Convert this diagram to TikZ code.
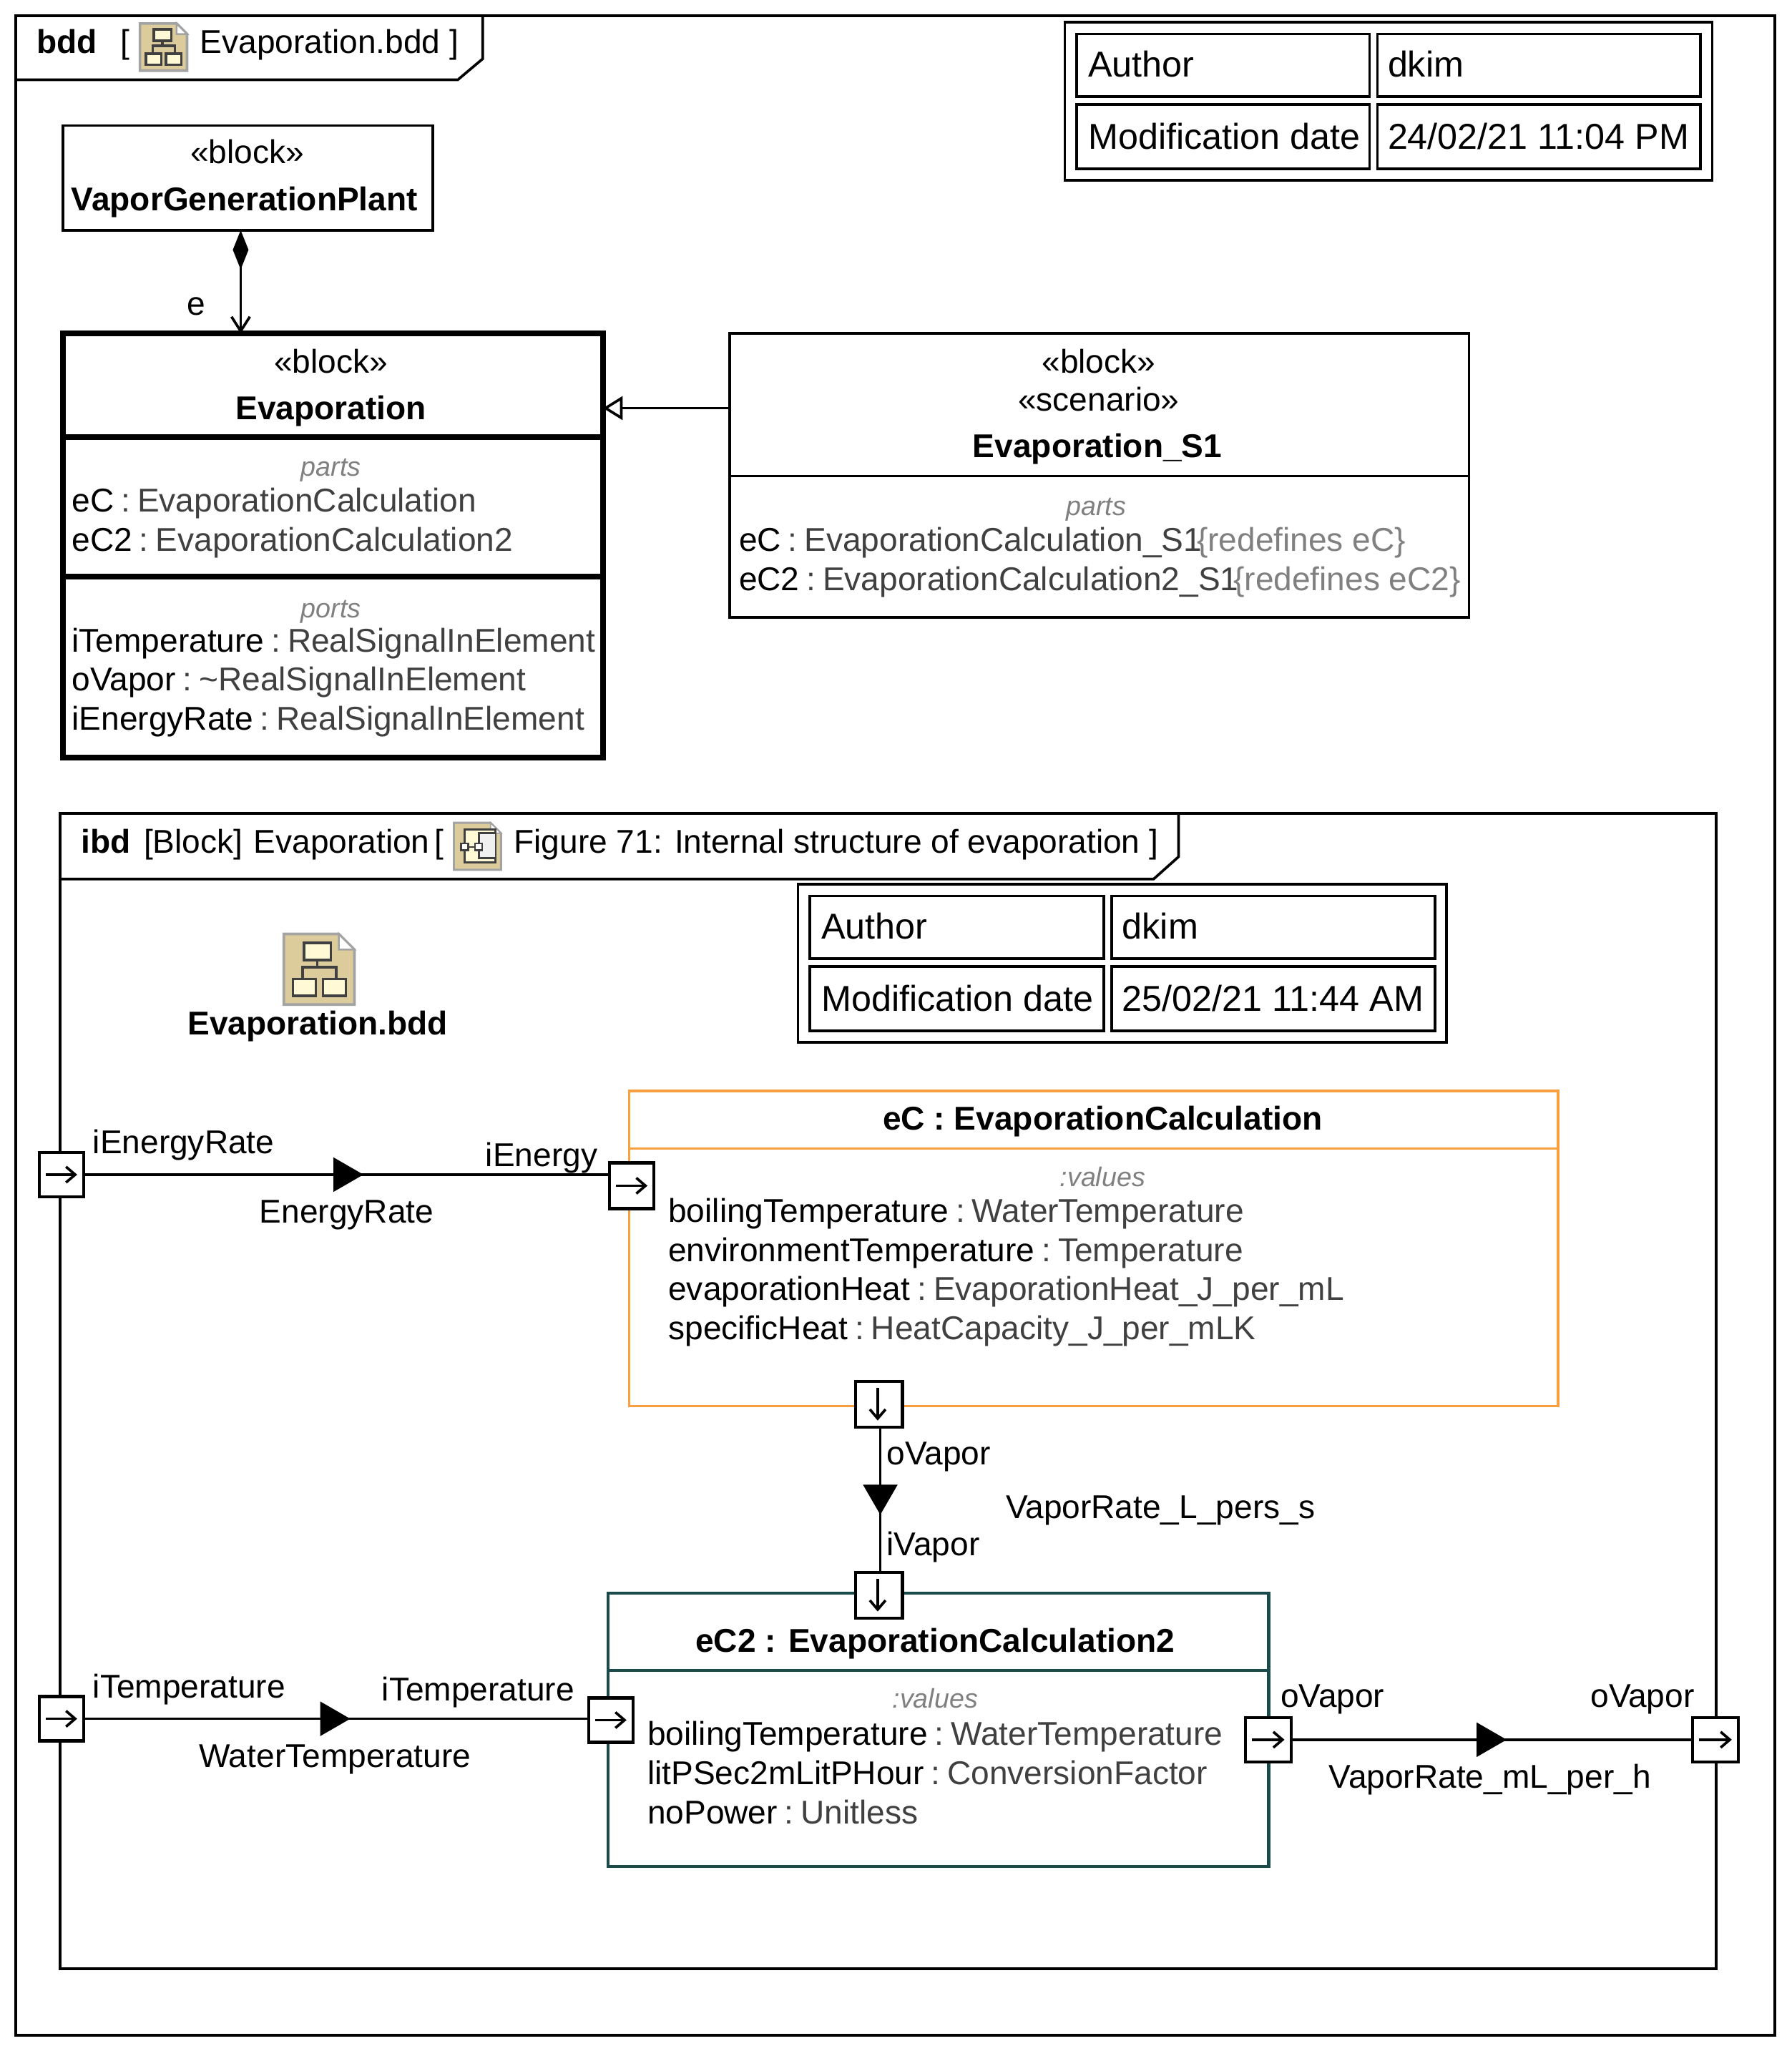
\documentclass[tikz,border=0pt]{standalone}
\usepackage{fontspec}
\setmainfont{Liberation Sans}
\usetikzlibrary{arrows.meta,fit,decorations.markings}
\definecolor{typegray}{HTML}{404040}
\definecolor{kwgray}{HTML}{808080}
\definecolor{iconTan}{HTML}{DCCB9B}
\definecolor{iconEdge}{HTML}{A3A3A3}
\definecolor{iconFill}{HTML}{FFF9D6}
\definecolor{calcOrange}{HTML}{F8A040}
\definecolor{calcTeal}{HTML}{1B4A4A}
\newcommand{\propline}[2]{#1\hspace{2.7pt}{\color{typegray}:\hspace{2.7pt}#2}}
\newcommand{\kwtext}[1]{{\fontsize{10.3}{12}\selectfont\itshape\color{kwgray}#1}}
\tikzset{
  txt/.style={inner sep=0pt, outer sep=0pt, font=\fontsize{12.6}{15}\selectfont},
  lbl/.style={txt, anchor=base west},
  mid/.style={txt, anchor=base},
  cell/.style={lbl, font=\fontsize{13.75}{15}\selectfont},
  listing/.style={txt, anchor=north west, align=left},
  framebox/.style={draw, line width=1pt, inner sep=0pt, outer sep=0pt},
  blockbox/.style={framebox, fill=white},
  portbox/.style={draw, fill=white, line width=1.2pt, inner sep=0pt, outer sep=0pt},
  portarrow/.style={line width=1pt, -{Straight Barb[length=3.5pt,width=6pt]}},
  flowline/.style={line width=1pt, postaction={decorate},
    decoration={markings, mark=at position #1 with {\arrow{Triangle[length=11.5pt,width=13pt]}}}},
  bddicon/.pic={
    \draw[iconEdge, fill=iconTan, line width=1pt] (0,0) -- (42,0) -- (54,12) -- (54,54) -- (0,54) -- cycle;
    \draw[iconEdge, fill=white, line width=0.7pt] (42,0) -- (54,12) -- (42,12) -- cycle;
    \draw[typegray, line width=1pt] (25.6,20) -- (25.6,25.5) (14.5,34.5) -- (14.5,25.5) -- (40,25.5) -- (40,34.5);
    \draw[typegray, fill=iconFill, line width=1pt] (15.6,6.7) rectangle (36,20);
    \draw[typegray, fill=iconFill, line width=1pt] (7,34.5) rectangle (24.5,47.3);
    \draw[typegray, fill=iconFill, line width=1pt] (30,34.5) rectangle (47.4,47.3);
  },
  ibdicon/.pic={
    \draw[iconEdge, fill=iconTan, line width=0.8pt] (0,0) -- (28,0) -- (36,8) -- (36,36) -- (0,36) -- cycle;
    \draw[iconEdge, fill=white, line width=0.5pt] (28,0) -- (36,8) -- (28,8) -- cycle;
    \draw[typegray, fill=iconFill, line width=0.8pt] (8,5) rectangle (31.5,30.5);
    \draw[typegray, fill=white!94!black, line width=0.8pt] (31.5,8) -- (19,8) -- (19,27) -- (31.5,27);
    \draw[typegray, line width=0.6pt] (11,18.5) -- (16,18.5);
    \draw[typegray, fill=white, line width=0.6pt] (5.5,16) rectangle (11,21);
    \draw[typegray, fill=white, line width=0.6pt] (16,16) rectangle (21.8,21);
  },
}

\begin{document}
\begin{tikzpicture}[x=0.5pt, y=-0.5pt, >=Stealth]
  \useasboundingbox (0,0) rectangle (1369.5,1568);

  % Outer frame
  \node[framebox, fit={(12,12)(1357,1556)}] (bddframe) {};
  \draw[line width=1pt] (369,12) -- (369,45) -- (350,61) -- (12,61);
  \node[lbl] (bddkind) at (28,41) {\textbf{bdd}};
  \node[lbl] (bddbracket) at (92,41) {[};
  \pic at (107,18) [scale=0.667] {bddicon};
  \node[lbl] (bddtitle) at (153,41) {Evaporation.bdd ]};

  % Author table, top
  \node[framebox, fit={(814,17)(1309,138)}] (infoa) {};
  \node[framebox, fit={(823,26)(1047,74)}] (infoaa) {};
  \node[framebox, fit={(1053,26)(1300,74)}] (infoab) {};
  \node[framebox, fit={(823,80)(1047,129)}] (infoac) {};
  \node[framebox, fit={(1053,80)(1300,129)}] (infoad) {};
  \node[cell] (infoaat) at (832,59) {Author};
  \node[cell] (infoabt) at (1061,59) {dkim};
  \node[cell] (infoact) at (832,114) {Modification date};
  \node[cell] (infoadt) at (1061,114) {24/02/21 11:04 PM};

  % Blocks
  \node[blockbox, fit={(48,96)(331,176)}] (plant) {};
  \node[mid] (plantkw) at (189,125) {«block»};
  \node[mid] (plantname) at (187,161) {\textbf{VaporGenerationPlant}};

  \node[blockbox, line width=2.2pt, fit={(48,255)(461,579)}] (evap) {};
  \draw[line width=2.2pt] (48,334) -- (461,334);
  \draw[line width=2.2pt] (48,441) -- (461,441);
  \node[mid] (evapkw) at (253,285) {«block»};
  \node[mid] (evapname) at (253,321) {\textbf{Evaporation}};
  \node[mid] (evapparts) at (253,364) {\kwtext{parts}};
  \node[listing] (evaplist) at (55,373) {\propline{eC}{EvaporationCalculation}\\\propline{eC2}{EvaporationCalculation2}};
  \node[mid] (evapports) at (253,472) {\kwtext{ports}};
  \node[listing] (evapplist) at (55,480) {\propline{iTemperature}{RealSignalInElement}\\\propline{oVapor}{\textasciitilde RealSignalInElement}\\\propline{iEnergyRate}{RealSignalInElement}};

  \node[blockbox, fit={(558,255)(1123,472)}] (scen) {};
  \draw[line width=1pt] (558,364) -- (1123,364);
  \node[mid] (scenkw) at (840,285) {«block»};
  \node[mid] (scenkwb) at (840,314) {«scenario»};
  \node[mid] (scenname) at (839,350) {\textbf{Evaporation\_S1}};
  \node[mid] (scenparts) at (838,394) {\kwtext{parts}};
  \node[listing] (scenlist) at (565,403) {\propline{eC}{EvaporationCalculation\_S1}\hspace{-2pt}{\color{kwgray}\{redefines eC\}}\\\propline{eC2}{EvaporationCalculation2\_S1}\hspace{-2pt}{\color{kwgray}\{redefines eC2\}}};

  % Block connectors
  \draw[line width=1pt, {Diamond[length=15pt,width=6pt]}-{Straight Barb[length=5.5pt,width=7pt]}]
    ([xshift=-2.75pt]plant.south) -- ([xshift=-2.75pt]plant.south |- evap.north);
  \node[mid] (evalbl) at (150,241) {e};
  \draw[line width=1pt, -{Triangle[open,fill=white,length=7.5pt,width=9pt]}]
    ([yshift=25.75pt]scen.west) -- ([yshift=25.75pt]scen.west -| evap.east);

  % Inner frame
  \node[framebox, fit={(46,622)(1312,1505)}] (ibdframe) {};
  \draw[line width=1pt] (901,622) -- (901,655) -- (882,672) -- (46,672);
  \node[lbl] (ibdkind) at (62,652) {\textbf{ibd}};
  \node[lbl] (ibdtype) at (110,652) {[Block]};
  \node[lbl] (ibdowner) at (194,652) {Evaporation};
  \node[lbl] (ibdbracket) at (332,652) {[};
  \pic at (347,629) {ibdicon};
  \node[lbl] (ibdtitle) at (393,652) {Figure 71: Internal structure of evaporation ]};

  % Author table, inner
  \node[framebox, fit={(610,676)(1106,797)}] (infob) {};
  \node[framebox, fit={(619,685)(844,733)}] (infoba) {};
  \node[framebox, fit={(850,685)(1097,733)}] (infobb) {};
  \node[framebox, fit={(619,739)(844,788)}] (infobc) {};
  \node[framebox, fit={(850,739)(1097,788)}] (infobd) {};
  \node[cell] (infobat) at (628,718) {Author};
  \node[cell] (infobbt) at (858,718) {dkim};
  \node[cell] (infobct) at (628,773) {Modification date};
  \node[cell] (infobdt) at (858,773) {25/02/21 11:44 AM};

  % Diagram link
  \pic at (217,714) {bddicon};
  \node[mid] (linklbl) at (243,791) {\textbf{Evaporation.bdd}};

  % Parts
  \node[blockbox, draw=calcOrange, fit={(481,834)(1191,1075)}] (calc) {};
  \draw[calcOrange, line width=1pt] (481,878) -- (1191,878);
  \node[mid] (calcname) at (843,864) {\textbf{eC : EvaporationCalculation}};
  \node[mid] (calcvals) at (843,907) {\kwtext{:values}};
  \node[listing] (calclist) at (511,916) {\propline{boilingTemperature}{WaterTemperature}\\\propline{environmentTemperature}{Temperature}\\\propline{evaporationHeat}{EvaporationHeat\_J\_per\_mL}\\\propline{specificHeat}{HeatCapacity\_J\_per\_mLK}};

  \node[blockbox, draw=calcTeal, line width=1.2pt, fit={(465,1218)(970,1427)}] (calcb) {};
  \draw[calcTeal, line width=1.2pt] (465,1277) -- (970,1277);
  \node[mid] (calcbname) at (715,1263) {\textbf{eC2 : EvaporationCalculation2}};
  \node[mid] (calcbvals) at (715,1306) {\kwtext{:values}};
  \node[listing] (calcblist) at (495,1316) {\propline{boilingTemperature}{WaterTemperature}\\\propline{litPSec2mLitPHour}{ConversionFactor}\\\propline{noPower}{Unitless}};

  % Ports
  \node[portbox, fit={(30,881)(64,915)}] (penergy) {};
  \node[portbox, fit={(466,889)(500,924)}] (pcalcin) {};
  \node[portbox, fit={(654,1056)(690,1091)}] (pcalcout) {};
  \node[portbox, fit={(654,1202)(690,1237)}] (pbin) {};
  \node[portbox, fit={(30,1297)(64,1331)}] (ptemp) {};
  \node[portbox, fit={(450,1298)(484,1332)}] (pbtemp) {};
  \node[portbox, fit={(952,1313)(987,1347)}] (pbout) {};
  \node[portbox, fit={(1294,1313)(1329,1347)}] (pvapor) {};
  \foreach \p in {penergy,pcalcin,ptemp,pbtemp,pbout,pvapor}
    \draw[portarrow] ([xshift=2.5pt]\p.west) -- ([xshift=-2.5pt]\p.east);
  \foreach \p in {pcalcout,pbin}
    \draw[portarrow] ([xshift=-0.5pt,yshift=-2.5pt]\p.north) -- ([xshift=-0.5pt,yshift=2.5pt]\p.south);

  % Flows
  \draw[flowline=0.532] (penergy.east) -- (penergy.east -| pcalcin.west);
  \draw[flowline=0.604] ([xshift=0.5pt]pcalcout.south) -- ([xshift=0.5pt]pbin.north);
  \draw[flowline=0.528] (ptemp.east) -- (ptemp.east -| pbtemp.west);
  \draw[flowline=0.537] (pbout.east) -- (pbout.east -| pvapor.west);

  % Flow labels
  \node[lbl] (lblenergy) at (71,882) {iEnergyRate};
  \node[mid] (lblrate) at (265,935) {EnergyRate};
  \node[mid] (lblienergy) at (414,892) {iEnergy};
  \node[lbl] (lblovapor) at (678,1120) {oVapor};
  \node[lbl] (lblrates) at (769,1161) {VaporRate\_L\_pers\_s};
  \node[lbl] (lblivapor) at (678,1189) {iVapor};
  \node[lbl] (lbltemp) at (71,1298) {iTemperature};
  \node[lbl] (lbltempb) at (292,1300) {iTemperature};
  \node[mid] (lblwater) at (256,1351) {WaterTemperature};
  \node[lbl] (lblout) at (979,1305) {oVapor};
  \node[lbl] (lbloutb) at (1216,1305) {oVapor};
  \node[lbl] (lblrateh) at (1016,1367) {VaporRate\_mL\_per\_h};
\end{tikzpicture}
\end{document}
